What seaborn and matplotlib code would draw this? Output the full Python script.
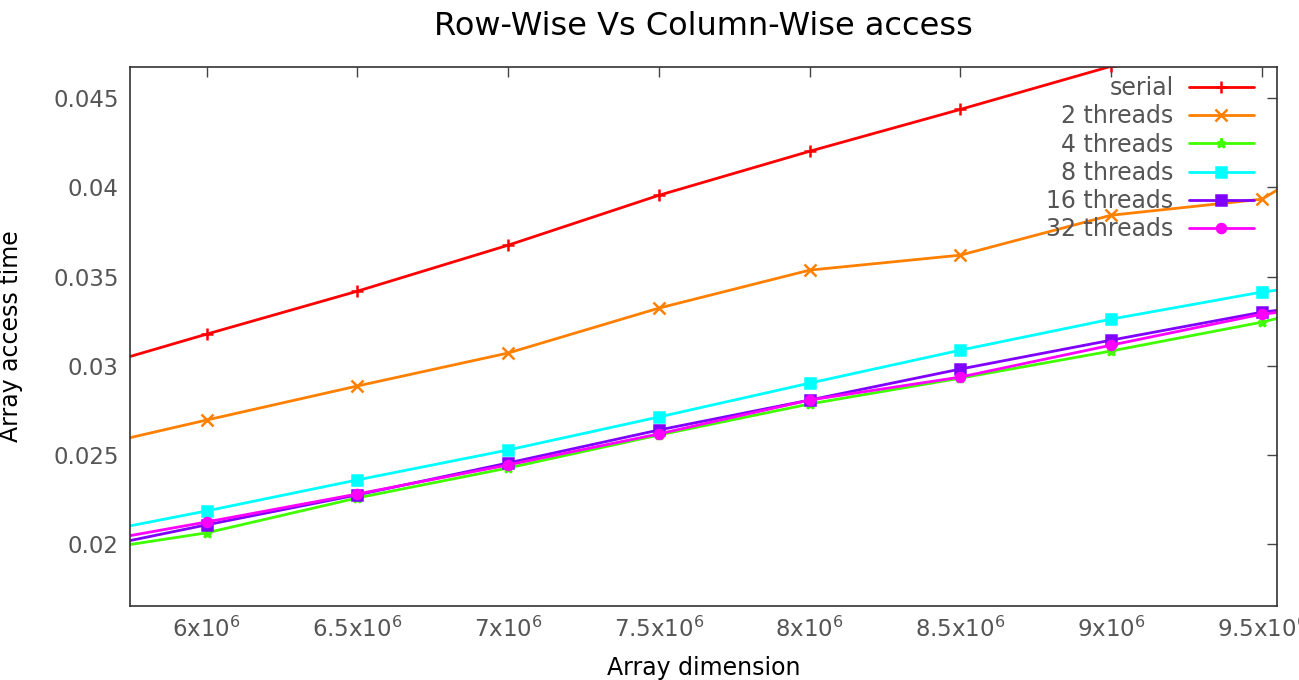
import numpy as np
import pandas as pd
import matplotlib
matplotlib.use('Agg')
import matplotlib.pyplot as plt
import matplotlib.colors as mcolors
import seaborn as sns

# ---------------------------------------------------------------------------
# data
# ---------------------------------------------------------------------------
dims = [5.5e6, 6.0e6, 6.5e6, 7.0e6, 7.5e6, 8.0e6, 8.5e6, 9.0e6, 9.5e6, 10.0e6]

serial = [0.0293, 0.03177, 0.03418, 0.03676, 0.03956, 0.04203, 0.04438, 0.04680, 0.0492, 0.0516]
threads_2 = [0.0250, 0.02695, 0.02886, 0.03071, 0.03323, 0.03536, 0.03620, 0.03844, 0.03934, 0.0444]
threads_4 = [0.01933, 0.02062, 0.02258, 0.02426, 0.02611, 0.02785, 0.02930, 0.03082, 0.03244, 0.0345]
threads_8 = [0.0202, 0.02185, 0.02359, 0.02527, 0.02712, 0.02902, 0.03087, 0.03261, 0.03413, 0.0352]
threads_16 = [0.01933, 0.02107, 0.02275, 0.02454, 0.02639, 0.02807, 0.02981, 0.03143, 0.03300, 0.0340]
threads_32 = [0.01972, 0.02123, 0.02280, 0.02443, 0.02617, 0.02807, 0.02936, 0.03115, 0.03289, 0.0338]

series_names = ['serial', '2 threads', '4 threads', '8 threads', '16 threads', '32 threads']
series_values = [serial, threads_2, threads_4, threads_8, threads_16, threads_32]
series_colors = ['#ff0000', '#ff8000', '#40ff00', '#00ffff', '#8000ff', '#ff00ff']
series_markers = ['+', 'x', '*', 's', 's', 'o']

x_ticks = [6.0e6, 6.5e6, 7.0e6, 7.5e6, 8.0e6, 8.5e6, 9.0e6, 9.5e6]
x_tick_labels = ['6x10$^6$', '6.5x10$^6$', '7x10$^6$', '7.5x10$^6$',
                 '8x10$^6$', '8.5x10$^6$', '9x10$^6$', '9.5x10$^6$']
y_ticks = [0.02, 0.025, 0.03, 0.035, 0.04, 0.045]
y_tick_labels = ['0.02', '0.025', '0.03', '0.035', '0.04', '0.045']

# long format for seaborn
rows = []
for name, vals in zip(series_names, series_values):
    for d, v in zip(dims, vals):
        rows.append({'dim': d, 'time': v, 'series': name})
df = pd.DataFrame(rows)

# ---------------------------------------------------------------------------
# plot
# ---------------------------------------------------------------------------
sns.set_theme(style='white')
plt.rcParams['font.family'] = ['DejaVu Sans']

fig = plt.figure(figsize=(12.99, 6.8), dpi=100)
ax = fig.add_axes([0.1, 0.109, 0.883, 0.792])

palette = dict(zip(series_names, series_colors))
sns.lineplot(data=df, x='dim', y='time', hue='series',
             hue_order=series_names, palette=palette,
             linewidth=2, ax=ax)

# gnuplot-like point types, looked up by line colour
marker_by_color = {mcolors.to_hex(c): m for c, m in zip(series_colors, series_markers)}


def style_marker(ln):
    col = mcolors.to_hex(ln.get_color())
    if col not in marker_by_color:
        return
    m = marker_by_color[col]
    ln.set_marker(m)
    ln.set_markersize(8 if m in ('+', 'x') else 6.5)
    ln.set_markeredgecolor(col)
    ln.set_markerfacecolor(col)
    ln.set_markeredgewidth(1.8)


for ln in ax.lines:
    style_marker(ln)

ax.set_xlim(5.745e6, 9.55e6)
ax.set_ylim(0.01652, 0.04674)

ax.set_xticks(x_ticks)
ax.set_xticklabels(x_tick_labels)
ax.set_yticks(y_ticks)
ax.set_yticklabels(y_tick_labels)

ax.tick_params(direction='in', length=7, width=1, color='#444444',
               labelcolor='#555555', labelsize=16.5,
               top=True, right=True, pad=8)
for sp in ax.spines.values():
    sp.set_color('#333333')
    sp.set_linewidth(1.2)

ax.set_title('Row-Wise Vs Column-Wise access', fontsize=23, pad=23, color='black')
ax.set_xlabel('Array dimension', fontsize=17, labelpad=10, color='black')
ax.set_ylabel('Array access time', fontsize=17, labelpad=22, color='black')

handles, labels = ax.get_legend_handles_labels()
for h in handles:
    style_marker(h)
leg = ax.legend(handles, labels, loc='upper right', frameon=False,
                markerfirst=False, fontsize=17, handlelength=2.75,
                labelspacing=0.18, borderaxespad=0.2, handletextpad=0.64,
                bbox_to_anchor=(0.992, 1.01))
for t in leg.get_texts():
    t.set_color('#555555')

plt.savefig('out.png', dpi=100)
